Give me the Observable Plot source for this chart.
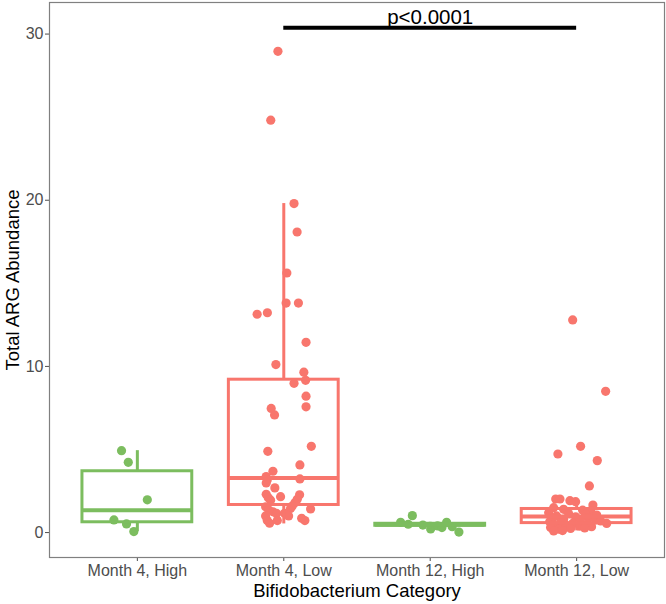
<!DOCTYPE html>
<html><head><meta charset="utf-8">
<script src="https://cdn.jsdelivr.net/npm/d3@7"></script>
<script src="https://cdn.jsdelivr.net/npm/@observablehq/plot@0.6"></script>
<style>
html,body{margin:0;padding:0;background:#fff;}
#chart svg{display:block;}
</style></head><body><div id="chart"></div>
<script>
// ---- data ----
const categories = ["Month 4, High", "Month 4, Low", "Month 12, High", "Month 12, Low"];
const categoryLevels = ["High", "Low", "High", "Low"];
const levels = ["High", "Low"];
const levelColors = ["#7cbd5f", "#f8766d"];
const yTicks = [0, 10, 20, 30];

const m4HighValues = [4.93, 4.23, 1.97, 0.76, 0.52, 0.06];
const m4HighJitter = [-0.108, -0.062, 0.068, -0.160, -0.074, -0.024];

const m4LowValues = [28.96, 24.82, 19.8, 18.09, 15.62, 13.81, 13.81, 13.14, 13.23, 11.45,
  10.11, 9.65, 8.98, 9.16, 8.21, 7.57, 7.47, 7.08, 5.19, 4.89,
  4.07, 3.69, 3.37, 3.17, 2.99, 3.23, 2.69, 2.3, 2.1, 1.95,
  2.16, 2.27, 2.0, 1.8, 1.6, 1.45, 1.55, 1.36, 1.25, 1.15,
  1.42, 1.16, 0.86, 0.72, 0.72, 0.56, 0.72, 1.0, 1.0];
const m4LowJitter = [-0.040, -0.089, 0.070, 0.091, 0.021, 0.016, 0.100, -0.182, -0.112, 0.152,
  -0.054, 0.137, 0.070, 0.149, 0.152, 0.152, -0.086, -0.063, 0.188, -0.109,
  0.110, -0.074, -0.120, -0.113, -0.120, 0.110, -0.061, -0.120, -0.106, -0.090,
  -0.022, 0.108, 0.092, 0.076, 0.058, 0.046, -0.124, -0.102, -0.074, -0.049,
  0.183, 0.005, 0.122, 0.144, -0.113, -0.097, -0.044, -0.124, 0.033];

const m12HighValues = [1.02, 0.62, 0.22, 0.62, 0.03, 0.5, 0.45, 0.4, 0.35, 0.3];
const m12HighJitter = [-0.122, -0.202, 0.003, 0.112, 0.196, -0.150, -0.050, 0.050, 0.150, 0.080];

const m12LowValues = [12.8, 8.5, 4.73, 5.19, 4.33, 2.81, 2.02, 2.02, 1.92, 1.86,
  1.66, 1.5, 1.4, 1.35, 1.3, 1.2, 1.15, 1.1, 1.05, 1.0,
  0.95, 0.9, 0.85, 0.8, 0.78, 0.75, 0.7, 0.65, 0.6, 0.55,
  0.52, 0.55, 0.45, 0.4, 0.38, 0.35, 0.3, 0.2, 0.25, 0.28,
  0.12, 0.1];
const m12LowJitter = [-0.027, 0.198, -0.128, 0.027, 0.141, 0.087, -0.143, -0.114, -0.046, -0.007,
  0.111, -0.157, -0.089, 0.041, 0.096, -0.191, -0.055, 0.061, 0.137, -0.137,
  -0.007, 0.082, -0.164, -0.089, 0.027, 0.130, 0.164, -0.184, -0.109, -0.027,
  0.075, 0.205, -0.157, -0.068, 0.020, 0.102, -0.178, -0.123, -0.041, 0.055,
  -0.096, -0.157];

// box statistics
const boxQ1 = [0.62, 1.66, 0.41, 0.57];
const boxMedian = [1.35, 3.29, 0.47, 0.96];
const boxQ3 = [3.69, 9.2, 0.53, 1.42];
const whiskerLow = [0.06, 0.52, 0.22, 0.1];
const whiskerHigh = [4.93, 19.8, 0.62, 2.02];

const bracketFrom = 2, bracketTo = 4, bracketY = 30.38, bracketLabel = "p<0.0001";
const xTitle = "Bifidobacterium Category";
const yTitle = "Total ARG Abundance";

// ---- build tables ----
const groupValues = [m4HighValues, m4LowValues, m12HighValues, m12LowValues];
const groupJitter = [m4HighJitter, m4LowJitter, m12HighJitter, m12LowJitter];
const points = [];
groupValues.forEach((vals, g) => vals.forEach((v, i) => points.push({
  x: g + 1 + groupJitter[g][i], value: v, level: categoryLevels[g]
})));
const boxes = categories.map((c, g) => ({
  pos: g + 1, level: categoryLevels[g], q1: boxQ1[g], med: boxMedian[g], q3: boxQ3[g],
  lo: whiskerLow[g], hi: whiskerHigh[g]
}));
const halfBox = 0.375;

const chart = Plot.plot({
  width: 666, height: 604,
  marginLeft: 49, marginRight: 2, marginTop: 2, marginBottom: 47,
  style: {fontFamily: "'Liberation Sans', Arial, sans-serif", background: "#fff", overflow: "visible"},
  x: {domain: [0.4, 4.6], axis: null},
  y: {domain: [-1.5, 31.9], axis: null},
  color: {domain: levels, range: levelColors},
  marks: [
    Plot.dot(points, {x: "x", y: "value", r: 4.6, fill: "level", stroke: "none"}),
    Plot.ruleX(boxes, {x: "pos", y1: "q3", y2: "hi", stroke: "level", strokeWidth: 3}),
    Plot.ruleX(boxes, {x: "pos", y1: "lo", y2: "q1", stroke: "level", strokeWidth: 3}),
    Plot.rect(boxes, {x1: d => d.pos - halfBox, x2: d => d.pos + halfBox, y1: "q1", y2: "q3",
      fill: "none", stroke: "level", strokeWidth: 3}),
    Plot.ruleY(boxes, {y: "med", x1: d => d.pos - halfBox, x2: d => d.pos + halfBox,
      stroke: "level", strokeWidth: 4}),
    Plot.ruleY([bracketY], {y: d => d, x1: bracketFrom, x2: bracketTo, stroke: "black", strokeWidth: 4}),
    Plot.text([bracketLabel], {x: (bracketFrom + bracketTo) / 2, y: bracketY, text: d => d,
      lineAnchor: "bottom", dy: -4, fontSize: 20.5, fill: "black"}),
    Plot.axisY({ticks: yTicks, tickSize: 4, tickPadding: 2, fontSize: 16, color: "#4d4d4d", label: null}),
    Plot.axisX({ticks: [1, 2, 3, 4], tickFormat: d => categories[d - 1], tickSize: 4, tickPadding: 3,
      fontSize: 16, color: "#4d4d4d", label: null}),
    Plot.text([yTitle], {frameAnchor: "left", text: d => d, rotate: -90, lineAnchor: "bottom",
      textAnchor: "middle", dx: -31, fontSize: 18.5, fill: "black"}),
    Plot.text([xTitle], {frameAnchor: "bottom", text: d => d, lineAnchor: "bottom",
      textAnchor: "middle", dy: 39, fontSize: 18.5, fill: "black"}),
    Plot.frame({stroke: "#808080", strokeWidth: 1.2})
  ]
});
document.getElementById("chart").appendChild(chart);
</script></body></html>
